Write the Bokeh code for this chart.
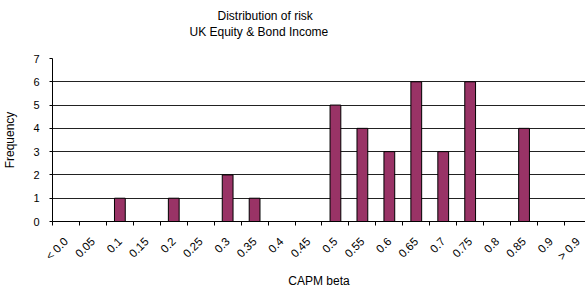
import math
from bokeh.plotting import figure
from bokeh.models import FixedTicker, Range1d, Title, LinearAxis, ColumnDataSource
from bokeh.embed import file_html
from bokeh.resources import INLINE

categories = ["< 0.0", "0.05", "0.1", "0.15", "0.2", "0.25", "0.3", "0.35", "0.4", "0.45",
              "0.5", "0.55", "0.6", "0.65", "0.7", "0.75", "0.8", "0.85", "0.9", "> 0.9"]
frequency = [0, 0, 1, 0, 1, 0, 2, 1, 0, 0, 5, 4, 3, 6, 3, 6, 0, 4, 0, 0]
y_ticks = [0, 1, 2, 3, 4, 5, 6, 7]
title_lines = ["Distribution of risk", "UK Equity & Bond Income"]

FONT = "Liberation Sans"

centers = [i + 0.5 for i in range(len(categories))]
boundaries = [i for i in range(len(categories) + 1)]
src = ColumnDataSource(dict(
    x=[c for c, f in zip(centers, frequency) if f > 0],
    top=[f for f in frequency if f > 0],
))

p = figure(width=585, height=291, output_backend="svg", toolbar_location=None,
           x_range=Range1d(0, 19.78), y_range=Range1d(0, 7),
           min_border_left=51, min_border_right=0, min_border_top=58, min_border_bottom=69)
p.outline_line_color = None
p.background_fill_color = "white"

p.vbar(x="x", top="top", width=0.4, source=src, fill_color="#993366",
       line_color="black", line_width=1)

xa = p.below[0]
ya = p.left[0]

# blank spacer between plot area and titles (one invisible tick, no label)
spacer = LinearAxis(ticker=FixedTicker(ticks=[10]), major_label_overrides={10: ""},
                    major_label_text_font_size="1px", major_label_standoff=0,
                    axis_line_color=None, major_tick_line_color=None,
                    minor_tick_line_color=None, major_tick_in=0, major_tick_out=20,
                    minor_tick_in=0, minor_tick_out=0)
p.add_layout(spacer, "above")

for line, off in zip(reversed(title_lines), [137, 165]):
    p.add_layout(Title(text=line, align="left", offset=off, text_font=FONT,
                       text_font_size="12px", text_font_style="normal", text_color="black",
                       standoff=0), "above")

xa.ticker = FixedTicker(ticks=centers, minor_ticks=boundaries)
xa.major_label_overrides = {c: lab for c, lab in zip(centers, categories)}
xa.major_label_orientation = math.pi / 4
xa.major_tick_line_color = None
xa.minor_tick_in = 0
xa.minor_tick_out = 4
xa.minor_tick_line_color = "black"
xa.axis_line_color = "black"
xa.major_label_text_font = FONT
xa.major_label_text_font_size = "11.5px"
xa.major_label_text_color = "black"
xa.major_label_standoff = 12
xa.axis_label = "CAPM beta"
xa.axis_label_text_font = FONT
xa.axis_label_text_font_size = "12px"
xa.axis_label_text_font_style = "normal"
xa.axis_label_text_color = "black"
xa.axis_label_standoff = 5

ya.ticker = FixedTicker(ticks=y_ticks)
ya.minor_tick_line_color = None
ya.major_tick_in = 0
ya.major_tick_out = 3
ya.major_tick_line_color = "black"
ya.axis_line_color = "black"
ya.major_label_text_font = FONT
ya.major_label_text_font_size = "11px"
ya.major_label_text_color = "black"
ya.major_label_standoff = 10
ya.axis_label = "Frequency"
ya.axis_label_text_font = FONT
ya.axis_label_text_font_size = "12px"
ya.axis_label_text_font_style = "normal"
ya.axis_label_text_color = "black"
ya.axis_label_standoff = 13

p.xgrid.grid_line_color = None
p.ygrid.ticker = FixedTicker(ticks=y_ticks)
p.ygrid.grid_line_color = "#222222"
p.ygrid.grid_line_width = 1

open("out.html", "w").write(file_html(p, INLINE))
